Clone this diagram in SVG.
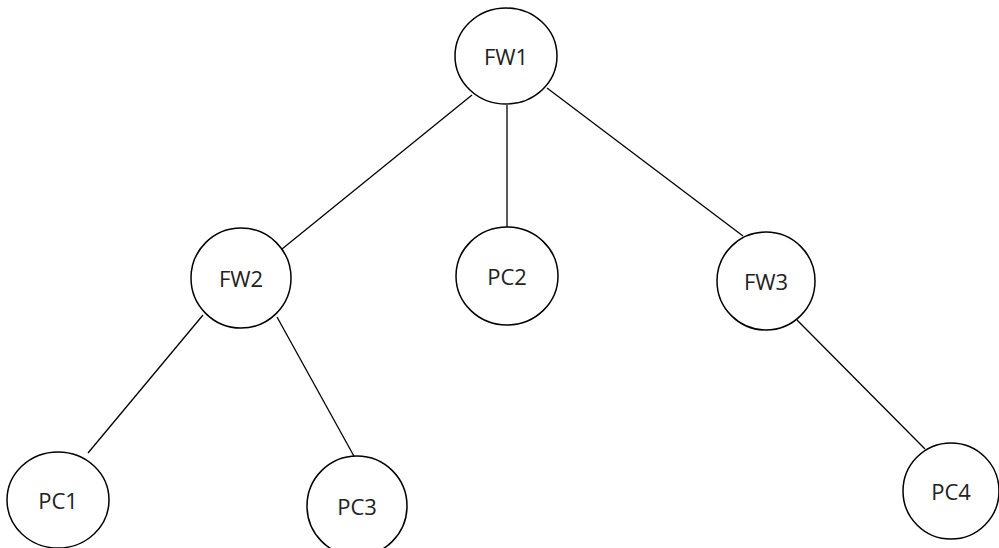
<svg xmlns="http://www.w3.org/2000/svg" width="999" height="548" viewBox="0 0 999 548">
<style>
.n ellipse{fill:#fff;stroke:#000;stroke-width:1.5}
.n text{font-family:"Open Sans","Liberation Sans",sans-serif;font-size:22px;fill:#222;text-anchor:middle;dominant-baseline:central}
#edges line{stroke:#000;stroke-width:1.3}
</style>
<rect width="999" height="548" fill="#fff"/>
<g id="edges">
<line x1="472" y1="95" x2="282" y2="249"/>
<line x1="507" y1="105" x2="507" y2="227"/>
<line x1="547" y1="88" x2="743" y2="236"/>
<line x1="203" y1="315" x2="88" y2="453"/>
<line x1="277" y1="317" x2="355" y2="458"/>
<line x1="797" y1="320" x2="925" y2="449"/>
</g>
<g id="FW1" class="n"><ellipse cx="506" cy="56" rx="51" ry="48"/><text x="506" y="56">FW1</text></g>
<g id="FW2" class="n"><ellipse cx="241" cy="278" rx="50" ry="50"/><text x="241" y="278">FW2</text></g>
<g id="PC2" class="n"><ellipse cx="507" cy="276" rx="51" ry="49"/><text x="507" y="276">PC2</text></g>
<g id="FW3" class="n"><ellipse cx="766" cy="281" rx="49" ry="49"/><text x="766" y="281">FW3</text></g>
<g id="PC1" class="n"><ellipse cx="58" cy="500" rx="51" ry="48"/><text x="58" y="500">PC1</text></g>
<g id="PC3" class="n"><ellipse cx="357" cy="506" rx="50" ry="50"/><text x="357" y="506">PC3</text></g>
<g id="PC4" class="n"><ellipse cx="951" cy="491" rx="48" ry="48"/><text x="951" y="491">PC4</text></g>
</svg>
